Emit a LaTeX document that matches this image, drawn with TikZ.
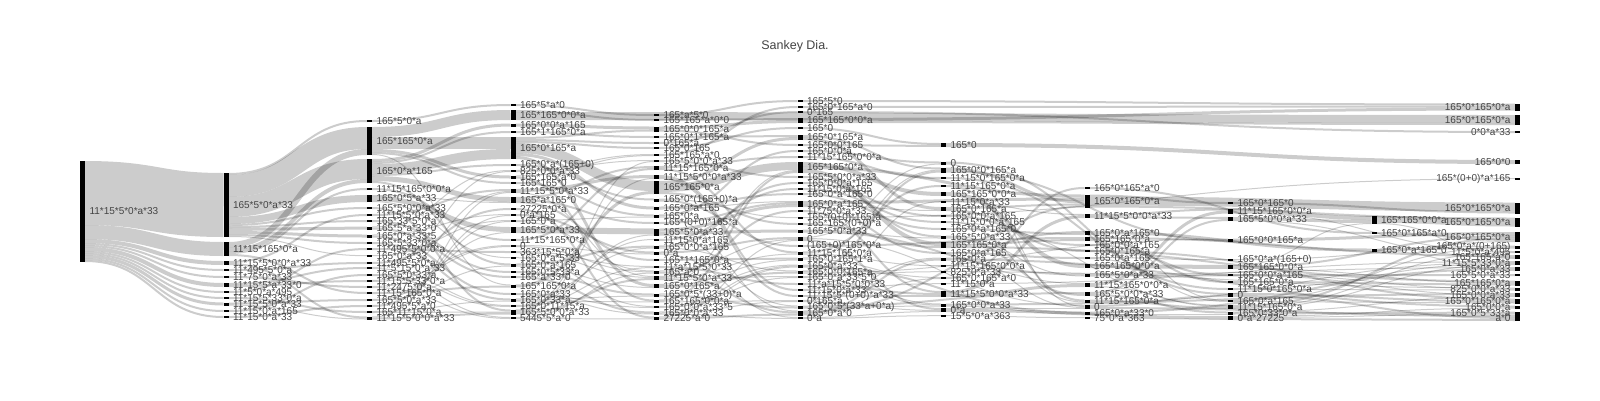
\documentclass[tikz,border=0pt]{standalone}
\usepackage{fontspec}
\setmainfont{Liberation Sans}
\usetikzlibrary{calc}
\pgfdeclarelayer{bg}
\pgfsetlayers{bg,main}
\definecolor{lbc}{HTML}{444444}
\tikzset{
  bar/.style={rectangle,draw=none,fill=black,minimum width=5pt,inner sep=0pt,outer sep=0pt},
  lbl/.style={inner sep=0pt,outer sep=0pt,font=\fontsize{10}{12}\selectfont,text=lbc},
  flow/.style={draw=black,draw opacity=0.2},
  ttl/.style={inner sep=0pt,font=\fontsize{12.5}{14}\selectfont,text=lbc}
}
\newcommand\getval[2]{\ifcsname #1@#2\endcsname\csname #1@#2\endcsname\else 0\fi}
\newcommand\addval[3]{\edef\myTa{\getval{#1}{#2}}\pgfmathsetmacro\myTv{\myTa+#3}\expandafter\xdef\csname #1@#2\endcsname{\myTv}}
\newcommand\mklinkA[3]{\addval{to}{#1}{#3}\addval{ti}{#2}{#3}}
\newcommand\mklinkB[3]{%
  \edef\myOa{\getval{uo}{#1}}\edef\myOb{\getval{ui}{#2}}%
  \pgfmathsetmacro\mySy{-(\myOa+#3/2)}%
  \pgfmathsetmacro\myTy{-(\myOb+#3/2)}%
  \draw[flow,line width=#3pt] let \p1=([yshift=\mySy pt]#1.north east), \p2=([yshift=\myTy pt]#2.north west) in
    (\p1) .. controls ({(\x1+\x2)/2},\y1) and ({(\x1+\x2)/2},\y2) .. (\p2);%
  \addval{uo}{#1}{#3}\addval{ui}{#2}{#3}}
\newcommand\mkflow[2]{\foreach \qa/\qb in {#2}{\edef\mycall{\noexpand\mklink{#1}{\qa}{\qb}}\mycall}}
\newcommand\mknode[4]{\edef\myHi{\getval{ti}{#1}}\edef\myHo{\getval{to}{#1}}%
  \pgfmathsetmacro\myHh{max(\myHi,\myHo,1.6)}%
  \node[bar,minimum height=\myHh pt] (#1) at ({82.5+143.5*#2},#3) {};%
  \node[lbl,anchor=west] (#1t) at ([xshift=4.5pt]#1.east) {#4};}
\newcommand\mknodeL[4]{\edef\myHi{\getval{ti}{#1}}\edef\myHo{\getval{to}{#1}}%
  \pgfmathsetmacro\myHh{max(\myHi,\myHo,1.6)}%
  \node[bar,minimum height=\myHh pt] (#1) at ({82.5+143.5*#2},#3) {};%
  \node[lbl,anchor=east] (#1t) at ([xshift=-4.5pt]#1.west) {#4};}
\newcommand\allflows{%
\mkflow{A0}{b1/64,b2/14,b3/4,b4/2,b5/2,b6/4,b7/2,b8/2,b9/3,b10/2,b11/2}%
\mkflow{b1}{c1/2,c2/22,c3/20,c5/7,c6/2,c8/2,c9/3,c10/3,c11/2,c13/1}%
\mkflow{b2}{c2/6,c3/4,c4/2,c19/2}%
\mkflow{b3}{c7/2,c23/2}%
\mkflow{b4}{c14/2}%
\mkflow{b5}{c18/2}%
\mkflow{b6}{c15/2,c17/2}%
\mkflow{b7}{c12/2}%
\mkflow{b8}{c22/2}%
\mkflow{b9}{c20/2,c23/1}%
\mkflow{b10}{c16/2}%
\mkflow{b11}{c21/2}%
\mkflow{c1}{d1/2}%
\mkflow{c2}{d2/10,d5/12,d8/3,d9/2,d23/1}%
\mkflow{c3}{d3/3,d4/2,d5/10,d6/2,d11/5,d20/2}%
\mkflow{c4}{d16/2}%
\mkflow{c5}{d11/1,d15/5,d19/1}%
\mkflow{c6}{d27/2}%
\mkflow{c7}{d10/2}%
\mkflow{c8}{d21/2}%
\mkflow{c9}{d7/1,d22/2}%
\mkflow{c10}{d13/1,d24/2}%
\mkflow{c11}{d25/2}%
\mkflow{c12}{d18/2}%
\mkflow{c13}{d14/1}%
\mkflow{c14}{d12/2}%
\mkflow{c15}{d7/1,d26/1}%
\mkflow{c16}{d26/1,d28/1}%
\mkflow{c17}{d10/1,d17/1}%
\mkflow{c18}{d17/1,d28/1}%
\mkflow{c19}{d23/2}%
\mkflow{c20}{d15/1,d20/1}%
\mkflow{c21}{d13/1,d14/1}%
\mkflow{c22}{d25/1,d27/1}%
\mkflow{c23}{d10/1,d27/2}%
\mkflow{d1}{e1/2}%
\mkflow{d2}{e2/2,k2/8}%
\mkflow{d3}{e3/3}%
\mkflow{d4}{e4/2}%
\mkflow{d5}{e3/2,e5/2,e6/2,e11/10,e13/3,e24/3}%
\mkflow{d6}{e12/2}%
\mkflow{d7}{e7/1,e8/1}%
\mkflow{d8}{e7/1,e26/2}%
\mkflow{d9}{e14/2}%
\mkflow{d10}{e10/3,e23/1}%
\mkflow{d11}{e9/2,e15/2,e20/2}%
\mkflow{d12}{e29/2}%
\mkflow{d13}{e19/2}%
\mkflow{d14}{e14/1,e22/1}%
\mkflow{d15}{e16/6}%
\mkflow{d16}{e9/2}%
\mkflow{d17}{e19/1,e22/1}%
\mkflow{d18}{e21/1,e23/1}%
\mkflow{d19}{e27/1}%
\mkflow{d20}{e18/2,e24/1}%
\mkflow{d21}{e25/2}%
\mkflow{d22}{e28/2}%
\mkflow{d23}{e11/3}%
\mkflow{d24}{e27/1,e28/1}%
\mkflow{d25}{e18/1,e25/1,e26/1}%
\mkflow{d26}{e17/1,e21/1}%
\mkflow{d27}{e8/1,e10/1,e16/1,e23/2}%
\mkflow{d28}{e22/1,e29/1}%
\mkflow{e1}{f1/2}%
\mkflow{e2}{f4/2}%
\mkflow{e3}{f4/3,f7/2}%
\mkflow{e4}{f6/2}%
\mkflow{e5}{f3/2}%
\mkflow{e6}{f5/2}%
\mkflow{e7}{f2/2}%
\mkflow{e8}{f11/2}%
\mkflow{e9}{f9/2,f22/2}%
\mkflow{e10}{f28/2,f29/2}%
\mkflow{e11}{f6/3,f10/8,f18/2}%
\mkflow{e12}{f17/1,f21/2}%
\mkflow{e13}{f14/2,f15/1}%
\mkflow{e14}{f8/2,f32/1}%
\mkflow{e15}{f15/2}%
\mkflow{e16}{f15/3,f19/3,f31/1}%
\mkflow{e17}{f13/2}%
\mkflow{e18}{f12/2,f25/1}%
\mkflow{e19}{f20/2,f33/1}%
\mkflow{e20}{f23/2}%
\mkflow{e21}{f27/2}%
\mkflow{e22}{f20/1,f32/2}%
\mkflow{e23}{f16/2,f22/1,f26/1}%
\mkflow{e24}{f10/1,f23/1,f25/2}%
\mkflow{e25}{f24/1,f31/2}%
\mkflow{e26}{f10/2,f30/1}%
\mkflow{e27}{f24/1,f26/1}%
\mkflow{e28}{f24/1,f30/1,f33/1}%
\mkflow{e29}{f20/1,f32/2}%
\mkflow{f1}{k1/2}%
\mkflow{f2}{k1/2}%
\mkflow{f3}{k3/2}%
\mkflow{f4}{k1/3,k2/2}%
\mkflow{f5}{g1/2}%
\mkflow{f6}{g3/2,g8/3}%
\mkflow{f7}{g1/2}%
\mkflow{f8}{g2/2}%
\mkflow{f9}{g4/2}%
\mkflow{f10}{g6/4,h2/3,g13/4}%
\mkflow{f11}{g12/2}%
\mkflow{f12}{g9/2}%
\mkflow{f13}{g10/2}%
\mkflow{f14}{g11/2}%
\mkflow{f15}{h2/3,g8/1,g14/2}%
\mkflow{f16}{g20/2}%
\mkflow{f17}{k5/1}%
\mkflow{f18}{g13/2}%
\mkflow{f19}{g12/1,h10/2}%
\mkflow{f20}{g2/1,h14/1,g22/2}%
\mkflow{f21}{h5/2}%
\mkflow{f22}{g5/2,g16/1}%
\mkflow{f23}{g3/1,g18/1}%
\mkflow{f24}{g21/1,h15/2}%
\mkflow{f25}{g3/2,i4/1}%
\mkflow{f26}{g17/1,g21/1}%
\mkflow{f27}{g20/2}%
\mkflow{f28}{g7/1,g19/1}%
\mkflow{f29}{g20/2}%
\mkflow{f30}{g15/1,g22/1}%
\mkflow{f31}{h12/2,g21/1}%
\mkflow{f32}{h4/2,g15/2,g18/1}%
\mkflow{f33}{g22/1,g23/1}%
\mkflow{g1}{k4/4}%
\mkflow{g2}{i10/2,h14/1}%
\mkflow{g3}{h2/3,i4/2}%
\mkflow{g4}{i9/2}%
\mkflow{g5}{h13/2}%
\mkflow{g6}{h9/4}%
\mkflow{g7}{h3/1}%
\mkflow{g8}{h2/2,h7/2}%
\mkflow{g9}{h6/2}%
\mkflow{g10}{h13/1,i12/1}%
\mkflow{g11}{h4/2}%
\mkflow{g12}{h10/1,h12/2}%
\mkflow{g13}{h2/2,h5/2,k15/2}%
\mkflow{g14}{h8/2}%
\mkflow{g15}{h14/1,k19/2}%
\mkflow{g16}{h11/1}%
\mkflow{g17}{k16/1}%
\mkflow{g18}{h1/2}%
\mkflow{g19}{k12/1}%
\mkflow{g20}{h3/3,h11/3}%
\mkflow{g21}{k17/2,h15/1}%
\mkflow{g22}{h14/1,i14/3}%
\mkflow{g23}{h16/1}%
\mkflow{h1}{j2/2}%
\mkflow{h2}{i1/2,k6/9,k7/2}%
\mkflow{h3}{i2/2,i3/2}%
\mkflow{h4}{j3/3,i11/1}%
\mkflow{h5}{k11/2,i8/2}%
\mkflow{h6}{i7/2}%
\mkflow{h7}{k18/2}%
\mkflow{h8}{i5/1,i11/1}%
\mkflow{h9}{i6/4}%
\mkflow{h10}{k13/1,k14/2}%
\mkflow{h11}{i2/3,i12/1}%
\mkflow{h12}{i3/2,i13/2}%
\mkflow{h13}{i12/2,k12/1}%
\mkflow{h14}{i10/2,k21/2}%
\mkflow{h15}{k13/2,i13/1}%
\mkflow{h16}{i14/1}%
\mkflow{i1}{k6/2}%
\mkflow{i2}{j1/4,k10/1}%
\mkflow{i3}{j1/3,k11/1}%
\mkflow{i4}{k8/3}%
\mkflow{i5}{k9/1}%
\mkflow{i6}{j1/1,k8/2,k15/1}%
\mkflow{i7}{k16/1,k17/1}%
\mkflow{i8}{k15/2}%
\mkflow{i9}{k12/1,k16/1}%
\mkflow{i10}{k18/2,k21/2}%
\mkflow{i11}{k9/1,k18/1}%
\mkflow{i12}{k8/2,k10/1,k12/1}%
\mkflow{i13}{k17/1,k20/2}%
\mkflow{i14}{k19/1,k20/1,k21/2}%
\mkflow{j1}{k7/7,k11/1}%
\mkflow{j2}{k8/2}%
\mkflow{j3}{k8/1,k9/1,k13/1}%
}
\begin{document}
\begin{tikzpicture}[x=1pt,y=-1pt]
\useasboundingbox (0,0) rectangle (1600,400);
\let\mklink\mklinkA
\allflows
\node[ttl] (title) at (795,46) {Sankey Dia.};
% column 0
\mknode{A0}{0}{211.5}{11*15*5*0*a*33}
% column 1
\mknode{b1}{1}{205}{165*5*0*a*33}
\mknode{b2}{1}{249}{11*15*165*0*a}
\mknode{b3}{1}{263}{11*15*5*0*0*a*33}
\mknode{b4}{1}{270}{11*495*5*0*a}
\mknode{b5}{1}{277}{11*75*0*a*33}
\mknode{b6}{1}{285}{11*15*5*a*33*0}
\mknode{b7}{1}{292}{11*5*0*a*495}
\mknode{b8}{1}{298}{11*15*5*33*0*a}
\mknode{b9}{1}{304}{11*15*5*0*a*33}
\mknode{b10}{1}{311}{11*15*0*a*165}
\mknode{b11}{1}{317}{11*15*0*a*33}
% column 2
\mknode{c1}{2}{121}{165*5*0*a}
\mknode{c2}{2}{141}{165*165*0*a}
\mknode{c3}{2}{171}{165*0*a*165}
\mknode{c4}{2}{189}{11*15*165*0*0*a}
\mknode{c5}{2}{198.5}{165*0*5*a*33}
\mknode{c6}{2}{208}{165*5*0*0*a*33}
\mknode{c7}{2}{215}{11*15*5*0*a*33}
\mknode{c8}{2}{221}{165*33*5*0*a}
\mknode{c9}{2}{228}{165*5*a*33*0}
\mknode{c10}{2}{236}{165*0*a*33*5}
\mknode{c11}{2}{243}{165*5*33*0*a}
\mknode{c12}{2}{249}{11*495*5*0*0*a}
\mknode{c13}{2}{256}{165*0*a*33}
\mknode{c14}{2}{263}{11*495*5*0*a}
\mknode{c15}{2}{268}{11*5*15*0*a*33}
\mknode{c16}{2}{275}{165*5*0*33*a}
\mknode{c17}{2}{281}{11*15*5*33*0*a}
\mknode{c18}{2}{287}{11*2475*0*a}
\mknode{c19}{2}{293}{11*15*165*0*a}
\mknode{c20}{2}{300}{165*5*0*a*33}
\mknode{c21}{2}{306}{11*495*5*a*0}
\mknode{c22}{2}{312}{165*11*15*0*a}
\mknode{c23}{2}{318}{11*15*5*0*0*a*33}
% column 3
\mknode{d1}{3}{105}{165*5*a*0}
\mknode{d2}{3}{115}{165*165*0*0*a}
\mknode{d3}{3}{125}{165*0*0*a*165}
\mknode{d4}{3}{132}{165*1*165*0*a}
\mknode{d5}{3}{148}{165*0*165*a}
\mknode{d6}{3}{165}{165*0*a*(165+0)}
\mknode{d7}{3}{171}{825*0*0*a*33}
\mknode{d8}{3}{177}{165*165*a*0}
\mknode{d9}{3}{183}{165*165*0}
\mknode{d10}{3}{191}{11*15*5*0*a*33}
\mknode{d11}{3}{200}{165*a*165*0}
\mknode{d12}{3}{209}{27225*0*a}
\mknode{d13}{3}{215}{0*a*165}
\mknode{d14}{3}{221}{165*0*a}
\mknode{d15}{3}{230}{165*5*0*a*33}
\mknode{d16}{3}{240}{11*15*165*0*a}
\mknode{d17}{3}{246}{0}
\mknode{d18}{3}{252}{363*15*5*0*a}
\mknode{d19}{3}{258}{165*0*a*5*33}
\mknode{d20}{3}{265}{165*0*a*165}
\mknode{d21}{3}{272}{165*0*5*33*a}
\mknode{d22}{3}{277}{165*a*33*0}
\mknode{d23}{3}{286}{165*165*0*a}
\mknode{d24}{3}{294}{165*0*a*33}
\mknode{d25}{3}{300}{165*0*33*a}
\mknode{d26}{3}{306}{165*0*11*15*a}
\mknode{d27}{3}{312}{165*5*0*0*a*33}
\mknode{d28}{3}{318}{5445*5*a*0}
% column 4
\mknode{e1}{4}{115}{165*a*5*0}
\mknode{e2}{4}{120}{165*165*a*0*0}
\mknode{e3}{4}{129}{165*0*0*165*a}
\mknode{e4}{4}{137}{165*0*1*165*a}
\mknode{e5}{4}{143}{0*165*a}
\mknode{e6}{4}{148}{165*0*165}
\mknode{e7}{4}{155}{165*165*a*0}
\mknode{e8}{4}{161}{165*5*0*0*a*33}
\mknode{e9}{4}{168}{11*15*165*0*a}
\mknode{e10}{4}{177}{11*15*5*0*0*a*33}
\mknode{e11}{4}{187.5}{165*165*0*a}
\mknode{e12}{4}{200}{165*0*(165+0)*a}
\mknode{e13}{4}{208}{165*0*a*165}
\mknode{e14}{4}{216}{165*0*a}
\mknode{e15}{4}{223}{165*(0+0)*165*a}
\mknode{e16}{4}{232}{165*5*0*a*33}
\mknode{e17}{4}{240}{11*15*0*a*165}
\mknode{e18}{4}{247}{165*0*0*a*165}
\mknode{e19}{4}{253}{0*a}
\mknode{e20}{4}{260}{165*1*165*0*a}
\mknode{e21}{4}{267}{11*a*15*5*0*33}
\mknode{e22}{4}{272}{165*a*0}
\mknode{e23}{4}{278}{11*15*5*0*a*33}
\mknode{e24}{4}{286}{165*0*165*a}
\mknode{e25}{4}{295}{165*0*5*(33+0)*a}
\mknode{e26}{4}{301}{165*165*0*0*a}
\mknode{e27}{4}{307}{165*0*0*a*33*5}
\mknode{e28}{4}{313}{165*0*0*a*33}
\mknode{e29}{4}{318}{27225*a*0}
% column 5
\mknode{f1}{5}{101}{165*5*0}
\mknode{f2}{5}{107}{165*0*165*a*0}
\mknode{f3}{5}{112}{0*165}
\mknode{f4}{5}{120.5}{165*165*0*0*a}
\mknode{f5}{5}{128}{165*0}
\mknode{f6}{5}{137.5}{165*0*165*a}
\mknode{f7}{5}{145}{165*0*0*165}
\mknode{f8}{5}{151}{165*0*0*a}
\mknode{f9}{5}{157}{11*15*165*0*0*a}
\mknode{f10}{5}{167.5}{165*165*0*a}
\mknode{f11}{5}{177}{165*5*0*0*a*33}
\mknode{f12}{5}{183}{165*0*0*a*165}
\mknode{f13}{5}{189}{11*15*0*a*165}
\mknode{f14}{5}{194}{165*0*a*165*0}
\mknode{f15}{5}{204}{165*0*a*165}
\mknode{f16}{5}{211}{11*75*0*a*33}
\mknode{f17}{5}{218}{165*(0+0)*165*a}
\mknode{f18}{5}{224}{165*165*(0+0)*a}
\mknode{f19}{5}{231}{165*5*0*a*33}
\mknode{f20}{5}{239}{0}
\mknode{f21}{5}{246}{(165+0)*165*0*a}
\mknode{f22}{5}{253}{11*15*165*0*a}
\mknode{f23}{5}{259}{165*0*165*1*a}
\mknode{f24}{5}{266}{165*0*a*33}
\mknode{f25}{5}{272}{165*0*0*165*a}
\mknode{f26}{5}{277}{165*0*a*33*5*0}
\mknode{f27}{5}{284}{11*a*15*5*0*0*33}
\mknode{f28}{5}{290}{11*15*0*a*33}
\mknode{f29}{5}{296}{11*15*5*(0+0)*a*33}
\mknode{f30}{5}{301}{0*165*a}
\mknode{f31}{5}{307}{165*0*5*(33*a+0*a)}
\mknode{f32}{5}{313}{165*0*a*0}
\mknode{f33}{5}{318}{0*a}
% column 6
\mknode{g1}{6}{145}{165*0}
\mknode{g2}{6}{163}{0}
\mknode{g3}{6}{170}{165*0*0*165*a}
\mknode{g4}{6}{178}{11*15*0*165*0*a}
\mknode{g5}{6}{186}{11*15*165*0*a}
\mknode{g6}{6}{194}{165*165*0*0*a}
\mknode{g7}{6}{202}{11*15*0*a*33}
\mknode{g8}{6}{209}{165*0*165*a}
\mknode{g9}{6}{216}{165*0*0*a*165}
\mknode{g10}{6}{222}{11*15*0*0*a*165}
\mknode{g11}{6}{229}{165*0*a*165*0}
\mknode{g12}{6}{237}{165*5*0*a*33}
\mknode{g13}{6}{245}{165*165*0*a}
\mknode{g14}{6}{253}{165*0*a*165}
\mknode{g15}{6}{259}{165*0*a}
\mknode{g16}{6}{266}{11*15*165*0*0*a}
\mknode{g17}{6}{272}{825*0*a*33}
\mknode{g18}{6}{278}{165*0*165*a*0}
\mknode{g19}{6}{284}{11*15*0*a}
\mknode{g20}{6}{294}{11*15*5*0*0*a*33}
\mknode{g21}{6}{305}{165*0*0*a*33}
\mknode{g22}{6}{310}{0*a}
\mknode{g23}{6}{316}{15*5*0*a*363}
% column 7
\mknode{h1}{7}{188}{165*0*165*a*0}
\mknode{h2}{7}{201}{165*0*165*0*a}
\mknode{h3}{7}{216}{11*15*5*0*0*a*33}
\mknode{h4}{7}{233}{165*0*a*165*0}
\mknode{h5}{7}{239}{165*165*0*a}
\mknode{h6}{7}{245}{165*0*0*a*165}
\mknode{h7}{7}{251}{165*0*165*a}
\mknode{h8}{7}{258}{165*0*a*165}
\mknode{h9}{7}{266}{165*165*0*0*a}
\mknode{h10}{7}{275}{165*5*0*a*33}
\mknode{h11}{7}{285}{11*15*165*0*0*a}
\mknode{h12}{7}{294}{165*5*0*0*a*33}
\mknode{h13}{7}{301}{11*15*165*0*a}
\mknode{h14}{7}{307}{0}
\mknode{h15}{7}{313}{165*0*a*33*0}
\mknode{h16}{7}{318}{75*0*a*363}
% column 8
\mknode{i1}{8}{203}{165*0*165*0}
\mknode{i2}{8}{211}{11*15*165*0*0*a}
\mknode{i3}{8}{219}{165*5*0*0*a*33}
\mknode{i4}{8}{240}{165*0*0*165*a}
\mknode{i5}{8}{260}{165*0*a*(165+0)}
\mknode{i6}{8}{267}{165*165*0*0*a}
\mknode{i7}{8}{275}{165*0*0*a*165}
\mknode{i8}{8}{282}{165*165*0*a}
\mknode{i9}{8}{289}{11*15*0*165*0*a}
\mknode{i10}{8}{295}{0}
\mknode{i11}{8}{301}{165*0*a*165}
\mknode{i12}{8}{307}{11*15*165*0*a}
\mknode{i13}{8}{313}{165*0*33*0*a}
\mknode{i14}{8}{318}{0*a*27225}
% column 9
\mknode{j1}{9}{220}{165*165*0*0*a}
\mknode{j2}{9}{233}{165*0*165*a*0}
\mknode{j3}{9}{250}{165*0*a*165*0}
% column 10
\mknodeL{k1}{10}{107}{165*0*165*0*a}
\mknodeL{k2}{10}{120}{165*0*165*0*a}
\mknodeL{k3}{10}{132}{0*0*a*33}
\mknodeL{k4}{10}{162}{165*0*0}
\mknodeL{k5}{10}{179}{165*(0+0)*a*165}
\mknodeL{k6}{10}{208}{165*0*165*0*a}
\mknodeL{k7}{10}{222}{165*0*165*0*a}
\mknodeL{k8}{10}{237}{165*0*165*0*a}
\mknodeL{k9}{10}{247}{165*0*a*(0+165)}
\mknodeL{k10}{10}{252}{11*5*0*a*495}
\mknodeL{k11}{10}{257}{165*165*a*0}
\mknodeL{k12}{10}{263}{11*15*5*33*0*a}
\mknodeL{k13}{10}{269}{165*0*a*33}
\mknodeL{k14}{10}{275}{165*5*0*a*33}
\mknodeL{k15}{10}{283}{165*165*0*a}
\mknodeL{k16}{10}{289}{825*0*0*a*33}
\mknodeL{k17}{10}{295}{165*0*0*a*33}
\mknodeL{k18}{10}{301}{165*0*165*0*a}
\mknodeL{k19}{10}{307}{165*0*0*a}
\mknodeL{k20}{10}{313}{165*0*5*33*a}
\mknodeL{k21}{10}{318}{a*0}
\let\mklink\mklinkB
\begin{pgfonlayer}{bg}
\allflows
\end{pgfonlayer}
\end{tikzpicture}
\end{document}
